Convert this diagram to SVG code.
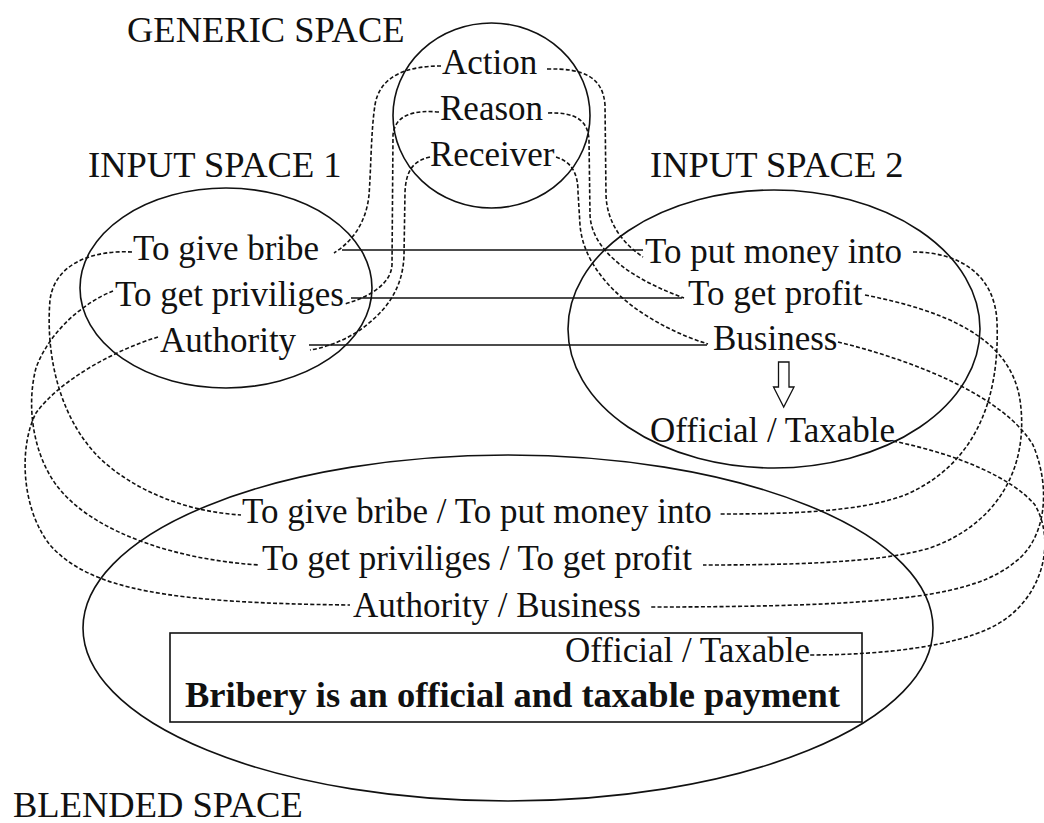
<svg xmlns="http://www.w3.org/2000/svg" width="1044" height="823" viewBox="0 0 1044 823">
  <style>
    text { font-family: "Liberation Serif", "DejaVu Serif", "Noto Serif", "Times New Roman", Times, serif; fill: #111; }
    .title { font-size: 36.5px; }
    .item { font-size: 35px; }
    .bold { font-size: 36.5px; font-weight: bold; }
    .space { fill: none; stroke: #111; stroke-width: 1.6; }
    .map { fill: none; stroke: #111; stroke-width: 1.5; }
    .link { fill: none; stroke: #111; stroke-width: 1.6; stroke-dasharray: 4 2.2; }
  </style>
  <rect width="1044" height="823" fill="#ffffff"/>

  <g font-family="Liberation Serif, DejaVu Serif, serif">
  <!-- mental spaces -->
  <g id="generic-space">
    <ellipse class="space" cx="491.5" cy="115.5" rx="98.5" ry="92.5"/>
    <text class="title" x="127" y="42">GENERIC SPACE</text>
  </g>
  <g id="input-space-1">
    <ellipse class="space" cx="226" cy="288" rx="146" ry="100"/>
    <text class="title" x="88" y="177">INPUT SPACE 1</text>
  </g>
  <g id="input-space-2">
    <ellipse class="space" cx="774" cy="329" rx="206" ry="139"/>
    <text class="title" x="650" y="177">INPUT SPACE 2</text>
  </g>
  <g id="blended-space">
    <ellipse class="space" cx="508" cy="628" rx="425" ry="173"/>
    <text class="title" x="13" y="817">BLENDED SPACE</text>
  </g>

  <!-- generic elements -->
  <g id="g-action"><text class="item" x="442" y="74">Action</text></g>
  <g id="g-reason"><text class="item" x="440" y="120">Reason</text></g>
  <g id="g-receiver"><text class="item" x="430" y="166">Receiver</text></g>

  <!-- input 1 elements -->
  <g id="i1-bribe"><text class="item" x="133" y="260">To give bribe</text></g>
  <g id="i1-priviliges"><text class="item" x="115" y="306">To get priviliges</text></g>
  <g id="i1-authority"><text class="item" x="160" y="352">Authority</text></g>

  <!-- input 2 elements -->
  <g id="i2-money"><text class="item" x="645" y="263">To put money into</text></g>
  <g id="i2-profit"><text class="item" x="688" y="305">To get profit</text></g>
  <g id="i2-business"><text class="item" x="713" y="350">Business</text></g>
  <g id="i2-arrow">
    <polygon points="778.5,362 789,362 789,387 794,387 783.7,407 773.5,387 778.5,387" fill="#fff" stroke="#111" stroke-width="1.3"/>
  </g>
  <g id="i2-official"><text class="item" x="650" y="442">Official / Taxable</text></g>

  <!-- blended elements -->
  <g id="b-action"><text class="item" x="242" y="523">To give bribe / To put money into</text></g>
  <g id="b-reason"><text class="item" x="262" y="570">To get priviliges / To get profit</text></g>
  <g id="b-receiver"><text class="item" x="353" y="617">Authority / Business</text></g>
  <g id="b-result">
    <rect x="170" y="633" width="692" height="89" fill="none" stroke="#111" stroke-width="1.6"/>
    <text class="item" x="565" y="662">Official / Taxable</text>
    <text class="bold" x="185" y="707">Bribery is an official and taxable payment</text>
  </g>
  </g>

  <!-- connectors -->
  <g id="connectors">
    <!-- cross-space counterpart mappings -->
    <line class="map" x1="342" y1="250" x2="643" y2="250"/>
    <line class="map" x1="351" y1="298" x2="682" y2="298"/>
    <line class="map" x1="309" y1="345" x2="707" y2="345"/>

    <!-- generic to input 1 -->
    <path class="link" d="M 441,66 C 410,66 380,74 375,105 C 371,130 371,170 369,195 C 366,225 350,243 334,253"/>
    <path class="link" d="M 439,112 C 415,110 395,114 393,135 L 392,265 C 391,283 372,296 345,304"/>
    <path class="link" d="M 430,157 C 412,161 406,172 405,192 L 404,255 C 403,290 385,312 360,330 C 345,340 328,347 310,350"/>

    <!-- generic to input 2 -->
    <path class="link" d="M 547,69 C 585,68 603,78 605,105 L 606,195 C 607,225 625,245 643,257"/>
    <path class="link" d="M 548,113 C 575,112 588,120 589,140 L 590,215 C 592,255 640,282 684,298"/>
    <path class="link" d="M 556,157 C 572,162 578,174 578,192 L 580,225 C 585,285 655,328 708,344"/>

    <!-- input 1 to blend -->
    <path class="link" d="M 132,252 C 95,250 55,262 50,300 C 45,360 62,425 105,463 C 145,497 195,512 241,515"/>
    <path class="link" d="M 113,291 C 85,302 50,330 36,368 C 25,410 35,462 62,492 C 100,535 180,560 259,565"/>
    <path class="link" d="M 158,337 C 115,350 60,380 36,413 C 18,448 22,510 50,545 C 90,590 170,603 350,605"/>

    <!-- input 2 to blend -->
    <path class="link" d="M 913,252 C 960,252 995,275 997,322 C 1000,400 975,465 905,495 C 860,512 790,514 720,514"/>
    <path class="link" d="M 865,295 C 940,310 1010,335 1020,400 C 1030,470 995,525 930,548 C 880,563 790,565 703,565"/>
    <path class="link" d="M 838,342 C 920,362 1005,398 1033,445 C 1052,490 1045,540 1015,562 C 975,595 900,607 650,607"/>
    <path class="link" d="M 893,441 C 960,455 1012,478 1035,505 C 1058,545 1040,605 990,628 C 955,645 890,655 808,655"/>
  </g>
</svg>
